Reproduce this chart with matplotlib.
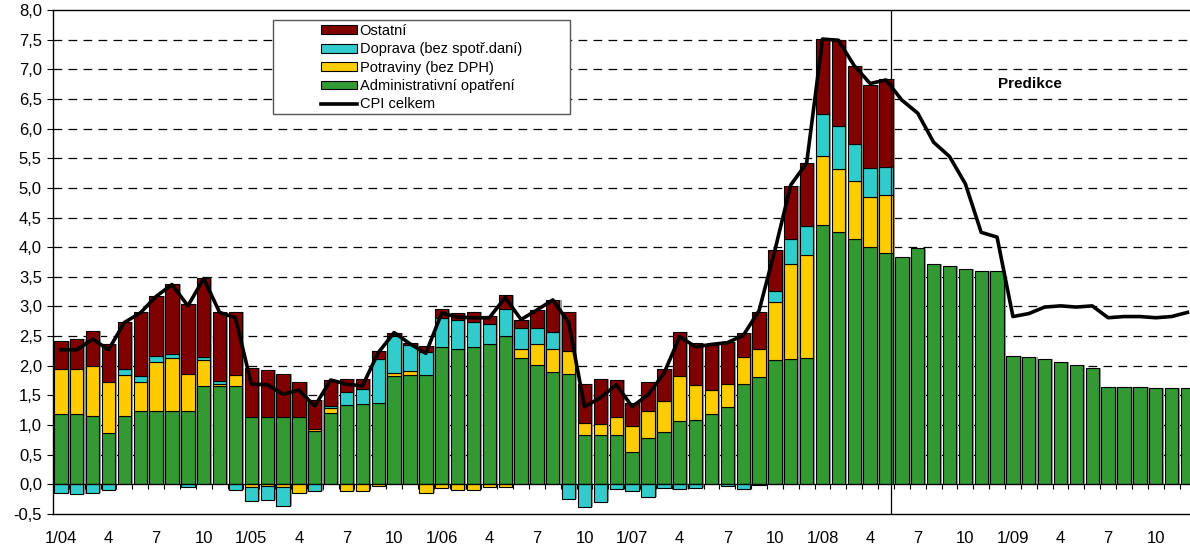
import numpy as np
import matplotlib
matplotlib.use('Agg')
import matplotlib.pyplot as plt
from matplotlib.patches import Patch, Rectangle
from matplotlib.lines import Line2D

plt.rcParams['font.family'] = ['Liberation Sans', 'DejaVu Sans']

# mesice 1/04 - 12/09, skutecnost do 5/08, potom predikce
tick_pos = list(range(0, 72, 3))
tick_lab = ['1/04', '4', '7', '10', '1/05', '4', '7', '10', '1/06', '4', '7', '10',
            '1/07', '4', '7', '10', '1/08', '4', '7', '10', '1/09', '4', '7', '10']

admin = [1.18, 1.18, 1.15, 0.86, 1.16, 1.23, 1.24, 1.23, 1.23, 1.66, 1.66, 1.66,
         1.14, 1.13, 1.13, 1.14, 0.90, 1.21, 1.33, 1.35, 1.37, 1.82, 1.84, 1.84,
         2.32, 2.29, 2.31, 2.37, 2.51, 2.13, 2.01, 1.89, 1.86, 0.84, 0.83, 0.83,
         0.55, 0.78, 0.89, 1.07, 1.09, 1.18, 1.31, 1.70, 1.81, 2.10, 2.12, 2.13,
         4.37, 4.26, 4.13, 4.01, 3.90, 3.83, 3.99, 3.72, 3.68, 3.63, 3.60, 3.59,
         2.17, 2.14, 2.12, 2.07, 2.01, 1.96, 1.65, 1.65, 1.65, 1.63, 1.63, 1.63]

potraviny = [0.76, 0.76, 0.84, 0.86, 0.68, 0.50, 0.82, 0.90, 0.63, 0.43, 0.04, 0.18,
             -0.05, -0.02, -0.05, -0.15, 0.03, 0.07, -0.11, -0.11, -0.03, 0.05, 0.07, -0.15,
             -0.06, -0.10, -0.10, -0.04, -0.04, 0.16, 0.36, 0.40, 0.39, 0.19, 0.18, 0.31,
             0.43, 0.46, 0.51, 0.75, 0.59, 0.41, 0.39, 0.45, 0.48, 0.97, 1.59, 1.74,
             1.17, 1.06, 0.99, 0.84, 0.98]

doprava = [-0.14, -0.17, -0.14, -0.09, 0.10, 0.10, 0.11, 0.07, -0.04, 0.05, 0.05, -0.10,
           -0.23, -0.24, -0.31, 0.0, -0.11, 0.04, 0.23, 0.26, 0.75, 0.63, 0.44, 0.40,
           0.48, 0.49, 0.43, 0.33, 0.45, 0.34, 0.27, 0.28, -0.24, -0.38, -0.29, -0.08,
           -0.11, -0.22, -0.06, -0.08, -0.06, 0.0, -0.03, -0.07, -0.01, 0.19, 0.42, 0.48,
           0.71, 0.72, 0.62, 0.48, 0.48]

ostatni = [0.47, 0.51, 0.59, 0.65, 0.79, 1.07, 1.01, 1.18, 1.19, 1.34, 1.15, 1.06,
           0.82, 0.80, 0.73, 0.59, 0.50, 0.44, 0.21, 0.16, 0.13, 0.06, 0.03, 0.10,
           0.15, 0.11, 0.17, 0.14, 0.24, 0.14, 0.30, 0.54, 0.66, 0.66, 0.76, 0.62,
           0.40, 0.48, 0.54, 0.75, 0.71, 0.76, 0.70, 0.40, 0.61, 0.70, 0.91, 1.07,
           1.26, 1.45, 1.32, 1.41, 1.48]

cpi = [2.27, 2.27, 2.45, 2.27, 2.73, 2.89, 3.17, 3.37, 3.01, 3.47, 2.90, 2.81,
       1.69, 1.68, 1.52, 1.59, 1.32, 1.76, 1.69, 1.66, 2.22, 2.56, 2.37, 2.21,
       2.89, 2.82, 2.81, 2.81, 3.15, 2.78, 2.94, 3.11, 2.73, 1.31, 1.46, 1.68,
       1.31, 1.51, 1.87, 2.49, 2.32, 2.36, 2.39, 2.51, 2.93, 3.95, 5.05, 5.42,
       7.51, 7.49, 7.06, 6.76, 6.82, 6.48, 6.26, 5.77, 5.53, 5.07, 4.25, 4.17,
       2.83, 2.88, 2.99, 3.01, 2.99, 3.01, 2.81, 2.83, 2.83, 2.81, 2.83, 2.90]

c_green = '#339933'
c_yellow = '#FFCC00'
c_cyan = '#33CCCC'
c_red = '#800000'

n = len(admin)
x = np.arange(n)
w = 0.84

def pad(v):
    out = np.zeros(n)
    out[:len(v)] = v
    return out

fig = plt.figure(figsize=(11.9, 5.49), dpi=100)
ax = fig.add_axes([53 / 1190, 1 - 514 / 549, 1 - 53 / 1190, 504 / 549])

adm = np.array(admin)
pos_b = adm.copy()
neg_b = np.zeros(n)
ax.bar(x, adm, w, color=c_green, edgecolor='black', linewidth=0.8, zorder=3)
for vals, col in [(pad(potraviny), c_yellow), (pad(doprava), c_cyan), (pad(ostatni), c_red)]:
    m = vals != 0
    bottom = np.where(vals >= 0, pos_b, neg_b)
    ax.bar(x[m], vals[m], w, bottom=bottom[m], color=col, edgecolor='black',
           linewidth=0.8, zorder=3)
    pos_b += np.clip(vals, 0, None)
    neg_b += np.clip(vals, None, 0)

# stin pod sloupci
ax.bar(x + 0.13, pos_b - neg_b, w, bottom=neg_b, color='#9a9a9a', linewidth=0, zorder=2)

ax.plot(x, cpi, color='black', linewidth=2.6, zorder=5)

ax.axhline(0, color='black', linewidth=0.9, zorder=4)
ax.vlines(x[:-1] + 0.5, -0.08, 0, color='black', linewidth=0.8, zorder=4)
ax.axvline(len(ostatni) - 0.7, color='black', linewidth=0.9, zorder=4)
ax.text(61.1, 6.76, 'Predikce', ha='center', va='center', fontsize=11,
        fontweight='bold', zorder=6)

ax.set_xlim(-0.5, 71.16)
ax.set_ylim(-0.5, 8.0)
yt = np.arange(-0.5, 8.01, 0.5)
ax.set_yticks(yt)
ax.set_yticklabels([f'{v:.1f}'.replace('.', ',') for v in yt], fontsize=12)
ax.set_xticks(tick_pos)
ax.set_xticklabels(tick_lab, fontsize=12)
ax.tick_params(axis='x', length=0, pad=12)
ax.tick_params(axis='y', length=4, width=0.8, pad=4)
for yv in yt[2:-1]:
    ax.axhline(yv, color='black', linewidth=0.9, dashes=(7, 5), zorder=1)
ax.spines['right'].set_visible(False)
for s in ['left', 'top', 'bottom']:
    ax.spines[s].set_linewidth(1.0)

# ramecek legendy
box = Rectangle((273 / 1190, 1 - 114 / 549), 297 / 1190, 94 / 549,
                transform=fig.transFigure, facecolor='white', edgecolor='#555555',
                linewidth=1.0, zorder=6)
fig.patches.append(box)

handles = [Patch(facecolor=c_red, edgecolor='black', linewidth=0.8),
           Patch(facecolor=c_cyan, edgecolor='black', linewidth=0.8),
           Patch(facecolor=c_yellow, edgecolor='black', linewidth=0.8),
           Patch(facecolor=c_green, edgecolor='black', linewidth=0.8),
           Line2D([0], [0], color='black', linewidth=2.6)]
labels = ['Ostatní', 'Doprava (bez spotř.daní)', 'Potraviny (bez DPH)',
          'Administrativní opatření', 'CPI celkem']
leg = fig.legend(handles, labels, loc='upper left',
                 bbox_to_anchor=(321 / 1190, 1 - 24 / 549),
                 bbox_transform=fig.transFigure,
                 prop={'size': 10.5}, frameon=False, handlelength=2.5,
                 handleheight=0.55, handletextpad=0.15, labelspacing=0.3,
                 borderpad=0, borderaxespad=0)
leg.set_zorder(8)

fig.savefig('out.png', dpi=100)
